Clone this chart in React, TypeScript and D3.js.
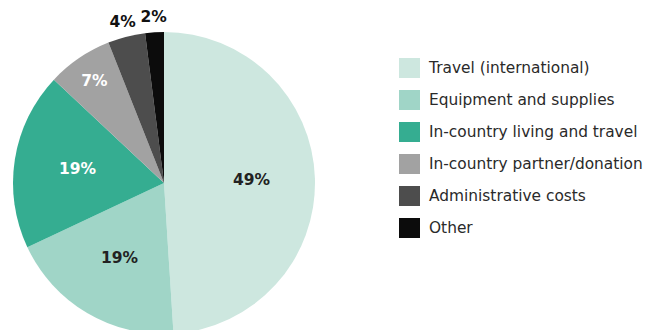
import React from "react";
import * as d3 from "d3";

const categories = [
  "Travel (international)",
  "Equipment and supplies",
  "In-country living and travel",
  "In-country partner/donation",
  "Administrative costs",
  "Other",
];
const values = [49, 19, 19, 7, 4, 2];
const colors = ["#cde7df", "#a0d5c7", "#35ad91", "#a2a2a2", "#4d4d4d", "#0c0c0c"];
const labelColors = ["#222", "#222", "#fff", "#fff", "#111", "#111"];

const W = 649;
const H = 330;
const cx = 164;
const cy = 183;
const R = 151;

export default function App() {
  const pie = d3.pie<number>().sort(null).value((d) => d);
  const arcs = pie(values);
  const arc = d3.arc<d3.PieArcDatum<number>>().innerRadius(0).outerRadius(R);
  const labelR = (v: number) => (v >= 15 ? R * 0.58 : v >= 6 ? R * 0.82 : R * 1.1);
  const legendY = d3.scaleBand<number>().domain(d3.range(categories.length)).range([52, 244]);

  return (
    <svg
      width={W}
      height={H}
      style={{ position: "absolute", left: 0, top: 0, background: "#fff" }}
      fontFamily="'DejaVu Sans', sans-serif"
    >
      <g transform={`translate(${cx},${cy})`}>
        {arcs.map((a, i) => (
          <path key={i} d={arc(a) || ""} fill={colors[i]} />
        ))}
        {arcs.map((a, i) => {
          const la = d3.arc<d3.PieArcDatum<number>>().innerRadius(labelR(a.value)).outerRadius(labelR(a.value));
          const [x, y] = la.centroid(a);
          return (
            <text
              key={i}
              x={x}
              y={y}
              textAnchor="middle"
              dominantBaseline="central"
              fontWeight="bold"
              fontSize={15.5}
              fill={labelColors[i]}
            >
              {values[i]}%
            </text>
          );
        })}
      </g>
      <g>
        {categories.map((c, i) => {
          const y = (legendY(i) as number) + legendY.bandwidth() / 2;
          return (
            <g key={i}>
              <rect x={399} y={y - 10} width={21} height={20} fill={colors[i]} />
              <text x={429} y={y} dominantBaseline="central" fontSize={15.4} fill="#2a2a2a">
                {c}
              </text>
            </g>
          );
        })}
      </g>
    </svg>
  );
}
